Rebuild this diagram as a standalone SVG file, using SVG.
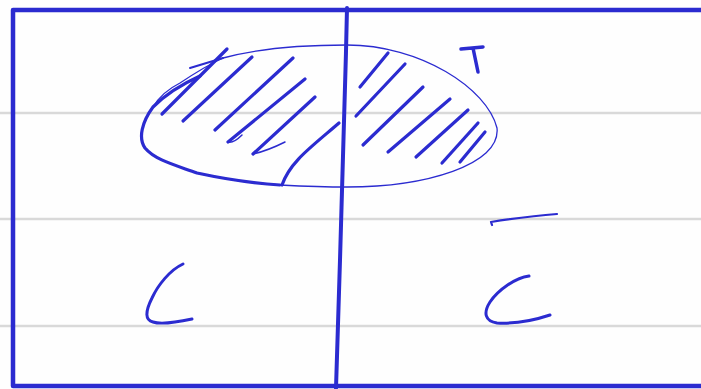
<svg xmlns="http://www.w3.org/2000/svg" width="701" height="389" viewBox="0 0 701 389">
<style>
.rule{stroke:#d9d9d9;stroke-width:2.5;fill:none}
.ink{stroke:#2b2bd0;fill:none;stroke-linecap:round;stroke-linejoin:round}
.hatch{stroke-width:3.2}
.thin{stroke-width:1.3}
.thick{stroke-width:3.2}
</style>
<rect width="701" height="389" fill="#fefefe"/>
<g id="rules">
<line class="rule" x1="0" y1="113" x2="701" y2="113"/>
<line class="rule" x1="0" y1="219" x2="701" y2="219"/>
<line class="rule" x1="0" y1="326" x2="701" y2="326"/>
</g>
<g id="frame">
<path class="ink" stroke-width="4.5" d="M 720,10 L 13,10 L 13,386 L 720,386"/>
</g>
<g id="divider">
<path class="ink" stroke-width="4" d="M 347,8 C 345,100 342,200 340,260 C 338,320 337,360 336,388"/>
</g>
<g id="set-T">
<path class="ink thin" d="M 223,58 C 260,48 300,45 347,45 C 420,45 487,88 497,128 C 501,165 425,187 347,187 C 320,187 300,186 280,185 C 250,183 220,178 197,173 C 175,165 155,160 145,148 C 138,138 142,122 153,107 C 160,95 170,88 180,83 C 195,73 210,64 223,58"/>
<path class="ink thick" d="M 200,76 C 180,85 165,95 153,107 C 142,122 138,138 145,148 C 155,160 175,165 197,173 C 220,178 250,183 280,185"/>
<g id="hatching">
<path class="ink hatch" d="M 227,49 L 162,114"/>
<path class="ink" stroke-width="2" d="M 190,68 L 223,58"/>
<path class="ink hatch" d="M 252,57 L 183,121"/>
<path class="ink hatch" d="M 293,58 L 215,130"/>
<path class="ink hatch" d="M 305,79 L 228,142"/>
<path class="ink" stroke-width="1.5" d="M 228,142 C 232,143 238,139 242,135"/>
<path class="ink hatch" d="M 315,97 L 253,154"/>
<path class="ink" stroke-width="1.5" d="M 253,154 C 262,152 275,147 285,142"/>
<path class="ink hatch" d="M 339,123 C 310,148 290,162 282,185"/>
<path class="ink hatch" d="M 388,53 L 360,87"/>
<path class="ink hatch" d="M 405,64 L 356,116"/>
<path class="ink hatch" d="M 423,87 L 363,145"/>
<path class="ink hatch" d="M 450,99 L 388,152"/>
<path class="ink hatch" d="M 468,110 L 416,157"/>
<path class="ink hatch" d="M 478,123 L 442,163"/>
<path class="ink hatch" d="M 485,132 L 460,162"/>
</g>
</g>
<g id="label-T">
<path class="ink" stroke-width="3.5" d="M 461,49 L 483,47 M 473,48 L 478,72"/>
</g>
<g id="label-C">
<path class="ink" stroke-width="3" d="M 183,264 C 170,270 158,285 152,298 C 145,312 145,320 153,322 C 162,325 178,322 192,319"/>
</g>
<g id="label-Cbar">
<path class="ink" stroke-width="2.2" d="M 492,225 L 491,222 C 510,219 530,216 557,214"/>
<path class="ink" stroke-width="3" d="M 529,276 C 515,278 498,290 490,302 C 483,313 485,321 497,323 C 515,324 535,320 550,315"/>
</g>
</svg>
